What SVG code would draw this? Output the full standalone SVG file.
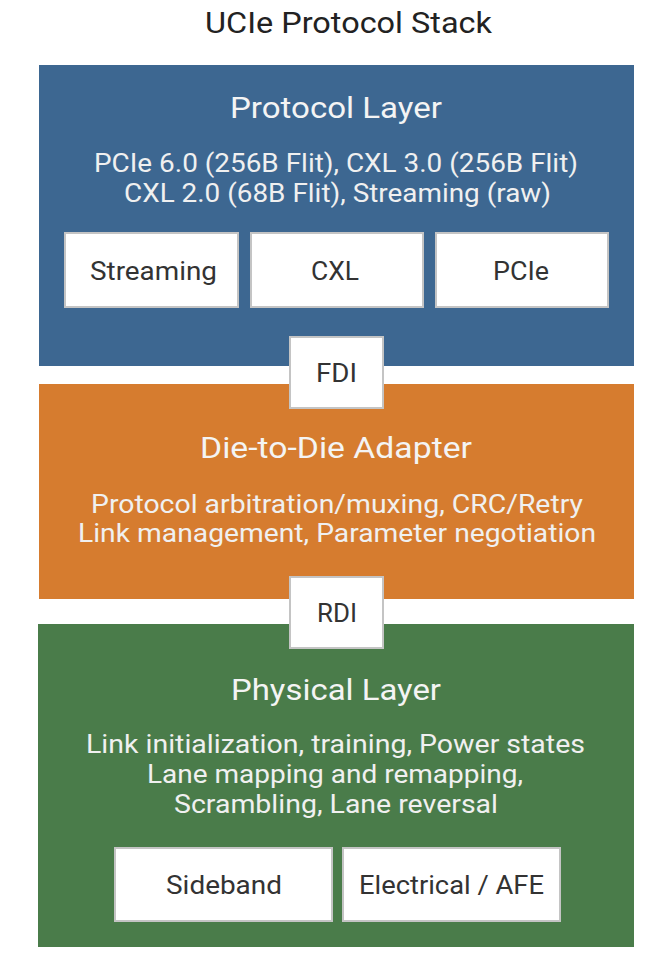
<svg xmlns="http://www.w3.org/2000/svg" width="660" height="960" viewBox="0 0 660 960">
<style>
text{font-family:Roboto,"Liberation Sans",sans-serif;text-anchor:middle}
.title{font-size:29px;fill:#222}
.head{font-size:30px;fill:#f4f4f4}
.sub{font-size:25px;fill:#f0f0f0}
.box{fill:#ffffff;stroke:#c4c4c4;stroke-width:2}
.bt{font-size:25px;fill:#333}
</style>
<rect width="660" height="960" fill="#ffffff"/>
<text class="title" x="348.5" y="33" textLength="287" lengthAdjust="spacingAndGlyphs">UCIe Protocol Stack</text>
<g id="protocol-layer">
<rect x="39" y="65" width="595" height="301" fill="#3d6791"/>
<text class="head" x="336" y="118" textLength="212" lengthAdjust="spacingAndGlyphs">Protocol Layer</text>
<text class="sub" x="336" y="172" textLength="484" lengthAdjust="spacingAndGlyphs">PCIe 6.0 (256B Flit), CXL 3.0 (256B Flit)</text>
<text class="sub" x="337.5" y="202" textLength="427" lengthAdjust="spacingAndGlyphs">CXL 2.0 (68B Flit), Streaming (raw)</text>
</g>
<g id="streaming"><rect class="box" x="65" y="233" width="173" height="74"/><text class="bt" x="153.5" y="280" textLength="127" lengthAdjust="spacingAndGlyphs">Streaming</text></g>
<g id="cxl"><rect class="box" x="251" y="233" width="172" height="74"/><text class="bt" x="335" y="280" textLength="48" lengthAdjust="spacingAndGlyphs">CXL</text></g>
<g id="pcie"><rect class="box" x="436" y="233" width="172" height="74"/><text class="bt" x="521" y="280" textLength="56" lengthAdjust="spacingAndGlyphs">PCIe</text></g>
<g id="d2d-adapter">
<rect x="39" y="384" width="595" height="215" fill="#d67c2f"/>
<text class="head" x="336" y="458" textLength="272" lengthAdjust="spacingAndGlyphs">Die-to-Die Adapter</text>
<text class="sub" x="337" y="513" textLength="492" lengthAdjust="spacingAndGlyphs">Protocol arbitration/muxing, CRC/Retry</text>
<text class="sub" x="337" y="542" textLength="518" lengthAdjust="spacingAndGlyphs">Link management, Parameter negotiation</text>
</g>
<g id="physical-layer">
<rect x="38" y="624" width="596" height="323" fill="#4a7c4a"/>
<text class="head" x="336" y="700" textLength="210" lengthAdjust="spacingAndGlyphs">Physical Layer</text>
<text class="sub" x="335.5" y="753" textLength="499" lengthAdjust="spacingAndGlyphs">Link initialization, training, Power states</text>
<text class="sub" x="335" y="783" textLength="376" lengthAdjust="spacingAndGlyphs">Lane mapping and remapping,</text>
<text class="sub" x="336" y="813" textLength="324" lengthAdjust="spacingAndGlyphs">Scrambling, Lane reversal</text>
</g>
<g id="sideband"><rect class="box" x="115" y="848" width="217" height="73"/><text class="bt" x="224" y="894" textLength="116" lengthAdjust="spacingAndGlyphs">Sideband</text></g>
<g id="electrical-afe"><rect class="box" x="343" y="848" width="217" height="73"/><text class="bt" x="451.5" y="894" textLength="185" lengthAdjust="spacingAndGlyphs">Electrical / AFE</text></g>
<g id="connectors">
<g id="fdi"><rect class="box" x="290" y="337" width="93" height="71"/><text class="bt" x="336.5" y="382" textLength="41" lengthAdjust="spacingAndGlyphs">FDI</text></g>
<g id="rdi"><rect class="box" x="290" y="577" width="93" height="71"/><text class="bt" x="337" y="622" textLength="40" lengthAdjust="spacingAndGlyphs">RDI</text></g>
</g>
</svg>
